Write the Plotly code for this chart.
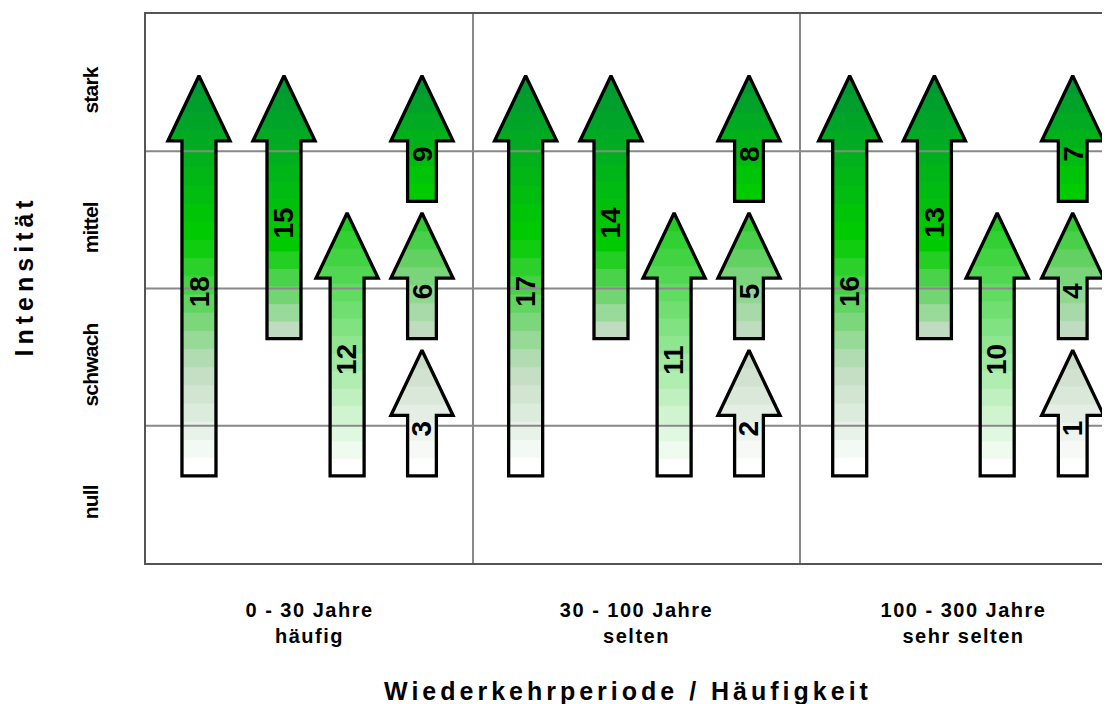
import plotly.graph_objects as go

# ---------------- data ----------------
period_labels = ["0 - 30 Jahre", "30 - 100 Jahre", "100 - 300 Jahre"]
frequency_labels = ["häufig", "selten", "sehr selten"]
intensity_levels = ["null", "schwach", "mittel", "stark"]

arrow_numbers = [18, 15, 12, 9, 6, 3,
                 17, 14, 11, 8, 5, 2,
                 16, 13, 10, 7, 4, 1]
arrow_column = [0, 0, 0, 0, 0, 0,
                1, 1, 1, 1, 1, 1,
                2, 2, 2, 2, 2, 2]
arrow_pos = [0.162, 0.422, 0.615, 0.844, 0.844, 0.844,
             0.161, 0.422, 0.615, 0.844, 0.844, 0.844,
             0.152, 0.411, 0.603, 0.834, 0.834, 0.834]
arrow_from = [0, 1, 0, 2, 1, 0,
              0, 1, 0, 2, 1, 0,
              0, 1, 0, 2, 1, 0]
arrow_to = [3, 3, 2, 3, 2, 1,
            3, 3, 2, 3, 2, 1,
            3, 3, 2, 3, 2, 1]

# ---------------- style ----------------
gradients = {
    (0, 3): [(0.0, "#ffffff"), (0.26, "#c0dcc0"), (0.6, "#00cc00"), (1.0, "#009933")],
    (1, 3): [(0.0, "#c0dcc0"), (0.35, "#00cc00"), (1.0, "#009933")],
    (0, 2): [(0.0, "#ffffff"), (1.0, "#22cc22")],
    (2, 3): [(0.0, "#00cc00"), (1.0, "#009933")],
    (1, 2): [(0.0, "#c0dcc0"), (1.0, "#33cc33")],
    (0, 1): [(0.0, "#ffffff"), (1.0, "#c8dcc8")],
}
BOTTOM_OFF = 0.635
TIP_OFF = 0.55
HEAD_LEN = 0.475
SHAFT_HW_BIG = 0.052
SHAFT_HW_SMALL = 0.044
HEAD_HW = 0.095
BAND_H = 0.131
LABEL_OFF = 0.48
FONT = "Liberation Sans, Arial, sans-serif"
XMAX = 964 / 327


def hex2rgb(h):
    h = h.lstrip("#")
    return tuple(int(h[i:i + 2], 16) for i in (0, 2, 4))


def grad_color(stops, f):
    for (f0, c0), (f1, c1) in zip(stops[:-1], stops[1:]):
        if f <= f1 + 1e-9:
            t = 0 if f1 == f0 else (f - f0) / (f1 - f0)
            a, b = hex2rgb(c0), hex2rgb(c1)
            r = [round(a[k] + (b[k] - a[k]) * t) for k in range(3)]
            return "rgb(%d,%d,%d)" % tuple(r)
    return stops[-1][1]


fig = go.Figure()
outlines = []
annotations = []
grid_gaps = {k: [] for k in range(1, len(intensity_levels))}

for n, col, pos, f, t in zip(arrow_numbers, arrow_column, arrow_pos, arrow_from, arrow_to):
    xc = col + pos
    yb = f + BOTTOM_OFF
    yt = t + TIP_OFF
    yh = yt - HEAD_LEN
    small = (t - f) == 1
    ws = SHAFT_HW_SMALL if small else SHAFT_HW_BIG
    wh = HEAD_HW

    def half_w(y):
        if y <= yh:
            return ws
        return wh * (yt - y) / (yt - yh)

    stops = gradients[(f, t)]
    nb = max(2, round((yt - yb) / BAND_H))
    edges = [yb + (yt - yb) * i / nb for i in range(nb + 1)]
    for i in range(nb):
        y0, y1 = edges[i], edges[i + 1]
        col_c = grad_color(stops, i / (nb - 1))
        if y1 <= yh:
            xs = [xc - ws, xc + ws, xc + ws, xc - ws, xc - ws]
            ys = [y0, y0, y1, y1, y0]
        elif y0 >= yh:
            w0, w1 = half_w(y0), half_w(y1)
            xs = [xc - w0, xc + w0, xc + w1, xc - w1, xc - w0]
            ys = [y0, y0, y1, y1, y0]
        else:
            w1 = half_w(y1)
            xs = [xc - ws, xc + ws, xc + ws, xc + wh, xc + w1, xc - w1, xc - wh, xc - ws, xc - ws]
            ys = [y0, y0, yh, yh, y1, y1, yh, yh, y0]
        fig.add_trace(go.Scatter(x=xs, y=ys, mode="lines", fill="toself",
                                 fillcolor=col_c, line=dict(color=col_c, width=1),
                                 hoverinfo="skip", showlegend=False))
    outlines.append(([xc, xc + ws, xc + ws, xc + wh, xc, xc - wh, xc - ws, xc - ws, xc],
                     [yb, yb, yh, yh, yt, yh, yh, yb, yb]))
    ly = (f + t) / 2 + LABEL_OFF
    if small:
        k = round(ly)
        if k in grid_gaps and abs(ly - k) < 0.1:
            grid_gaps[k].append((xc - ws, xc + ws))
    annotations.append(dict(x=xc, y=ly, xref="x", yref="y",
                            text=str(n), showarrow=False, textangle=-90,
                            font=dict(family=FONT, size=28, color="black", weight="bold")))

# grid lines (level and period boundaries); hidden behind labels of the short arrows
gx, gy = [], []
for k in range(1, len(intensity_levels)):
    x0 = 0
    for a, b in sorted(grid_gaps[k]):
        gx += [x0, a, None]
        gy += [k, k, None]
        x0 = b
    gx += [x0, XMAX, None]
    gy += [k, k, None]
for k in range(1, len(period_labels)):
    gx += [k, k, None]
    gy += [0, len(intensity_levels), None]
fig.add_trace(go.Scatter(x=gx, y=gy, mode="lines", line=dict(color="#888888", width=2),
                         hoverinfo="skip", showlegend=False))

for xs, ys in outlines:
    fig.add_trace(go.Scatter(x=xs, y=ys, mode="lines", line=dict(color="black", width=3.3),
                             hoverinfo="skip", showlegend=False))

xticktext = ['<span style="letter-spacing:1.5px">%s<br>%s</span>' % (p, q)
             for p, q in zip(period_labels, frequency_labels)]
yticktext = ['<span style="letter-spacing:-0.8px">%s</span>' % s for s in intensity_levels]

annotations.append(dict(x=0.5, y=0, xref="paper", yref="paper", yshift=-128,
                        xanchor="center", yanchor="middle", showarrow=False,
                        text='<span style="letter-spacing:4px">Wiederkehrperiode / Häufigkeit</span>',
                        font=dict(family=FONT, size=25, color="black", weight="bold")))
annotations.append(dict(x=0, y=0.522, xref="paper", yref="paper", xshift=-122,
                        xanchor="center", yanchor="middle", showarrow=False, textangle=-90,
                        text='<span style="letter-spacing:5px">Intensität</span>',
                        font=dict(family=FONT, size=25, color="black", weight="bold")))

fig.update_layout(
    width=1102, height=696,
    margin=dict(l=138, r=0, t=6, b=141, pad=0),
    paper_bgcolor="white", plot_bgcolor="white",
    showlegend=False,
    annotations=annotations,
    xaxis=dict(range=[0, XMAX], showgrid=False, zeroline=False,
               tickvals=[i + 0.5 for i in range(len(period_labels))],
               ticktext=xticktext, ticks="", ticklabelstandoff=28,
               tickfont=dict(family=FONT, size=20, color="black", weight="bold"),
               showline=True, linecolor="#555555", linewidth=2, mirror=True,
               fixedrange=True),
    yaxis=dict(range=[0, len(intensity_levels)], showgrid=False, zeroline=False,
               tickvals=[i + 0.5 - 0.08 for i in range(len(intensity_levels))],
               ticktext=yticktext, ticks="", tickangle=-90, ticklabelstandoff=38,
               tickfont=dict(family=FONT, size=21, color="black", weight="bold"),
               showline=True, linecolor="#555555", linewidth=2, mirror=False,
               fixedrange=True),
)

fig.write_html("out.html")
